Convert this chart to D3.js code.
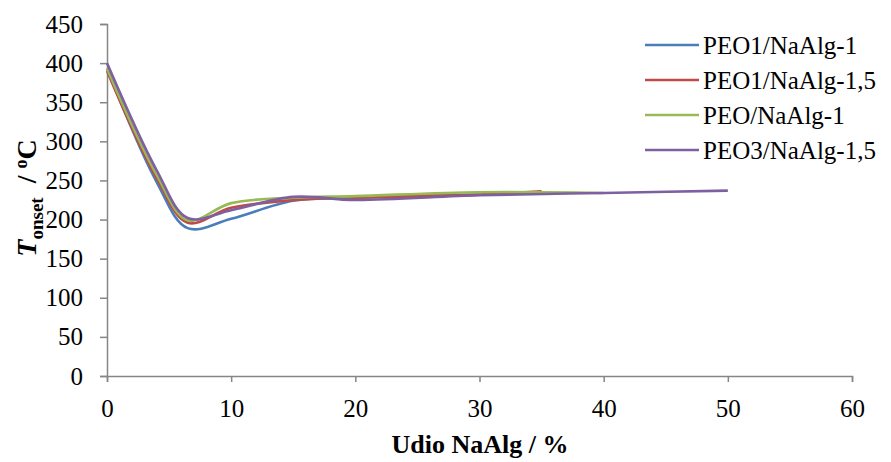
<!DOCTYPE html>
<html>
<head>
<meta charset="utf-8">
<script src="https://cdn.jsdelivr.net/npm/d3@7"></script>
<style>
  body { margin: 0; background: #fff; }
</style>
</head>
<body>
<div id="chart"></div>
<script>
// udio NaAlg (%) i T_onset (°C) za svaki uzorak
const seriesNames = ["PEO1/NaAlg-1", "PEO1/NaAlg-1,5", "PEO/NaAlg-1", "PEO3/NaAlg-1,5"];
const seriesColors = ["#4a7ebb", "#be4b48", "#98b954", "#7d60a0"];

const xPEO1_1 = [0, 4, 6.5, 10, 15, 20, 30];
const yPEO1_1 = [393, 248, 189, 201, 224, 228, 232];

const xPEO1_15 = [0, 4, 6.5, 10, 15, 20, 30, 35];
const yPEO1_15 = [390, 253, 196, 215, 225, 228, 232, 236];

const xPEO_1 = [0, 4, 6.5, 10, 15, 20, 30, 40];
const yPEO_1 = [393, 257, 199, 221, 228, 230, 235, 234];

const xPEO3_15 = [0, 4, 6.5, 10, 15, 20, 30, 40, 50];
const yPEO3_15 = [400, 263, 202, 212, 229, 225, 231, 234, 237];

const xTicks = [0, 10, 20, 30, 40, 50, 60];
const yTicks = [0, 50, 100, 150, 200, 250, 300, 350, 400, 450];

const FONT = "'Liberation Serif', 'Times New Roman', serif";

const series = [
    [xPEO1_1, yPEO1_1],
    [xPEO1_15, yPEO1_15],
    [xPEO_1, yPEO_1],
    [xPEO3_15, yPEO3_15]
].map(([xs, ys], i) => ({
    name: seriesNames[i],
    color: seriesColors[i],
    values: xs.map((x, j) => ({ x: x, y: ys[j] }))
}));

const W = 891, H = 462;
const margin = { top: 24, right: 39, bottom: 86, left: 107 },
    width = W - margin.left - margin.right,
    height = H - margin.top - margin.bottom;

const svg = d3.select("#chart")
    .append("svg")
    .attr("width", W)
    .attr("height", H)
    .style("font-family", FONT);

const g = svg.append("g")
    .attr("transform", `translate(${margin.left},${margin.top})`);

const x = d3.scaleLinear().domain([0, 60]).range([0, width]);
const y = d3.scaleLinear().domain([0, 450]).range([height, 0]);

// osi
const xAxis = g.append("g")
    .attr("transform", `translate(0,${height})`)
    .call(d3.axisBottom(x).tickValues(xTicks).tickSize(6).tickPadding(17));

const yAxis = g.append("g")
    .call(d3.axisLeft(y).tickValues(yTicks).tickSize(7).tickPadding(17));

[xAxis, yAxis].forEach(a => {
    a.attr("font-family", null).attr("font-size", null);
    a.selectAll("path, line").attr("stroke", "#868686").attr("stroke-width", 1.5);
    a.selectAll("text")
        .attr("fill", "#000")
        .style("font-family", FONT)
        .style("font-size", "25px");
});

// krivulje
const line = d3.line()
    .x(d => x(d.x))
    .y(d => y(d.y))
    .curve(d3.curveCatmullRom.alpha(0.5));

g.selectAll(".series")
    .data(series)
    .enter()
    .append("path")
    .attr("class", "series")
    .attr("fill", "none")
    .attr("stroke", d => d.color)
    .attr("stroke-width", 2.6)
    .attr("d", d => line(d.values));

// legenda
const legend = svg.append("g").attr("transform", "translate(645,45)");
const items = legend.selectAll("g")
    .data(series)
    .enter()
    .append("g")
    .attr("transform", (d, i) => `translate(0,${i * 35})`);

items.append("line")
    .attr("x1", 0).attr("x2", 54)
    .attr("stroke", d => d.color)
    .attr("stroke-width", 2.6);

items.append("text")
    .attr("x", 58)
    .attr("dy", "0.35em")
    .style("font-family", FONT)
    .style("font-size", "25px")
    .text(d => d.name);

// naslovi osi
svg.append("text")
    .attr("x", 480)
    .attr("y", 453)
    .attr("text-anchor", "middle")
    .style("font-family", FONT)
    .style("font-size", "26px")
    .style("font-weight", "bold")
    .text("Udio NaAlg / %");

const yl = svg.append("text")
    .attr("transform", `translate(36,198) rotate(-90)`)
    .attr("text-anchor", "middle")
    .style("font-family", FONT)
    .style("font-size", "28px")
    .style("font-weight", "bold");
yl.append("tspan").style("font-style", "italic").text("T");
yl.append("tspan").attr("dy", 7).style("font-size", "19px").text("onset");
yl.append("tspan").attr("dy", -7).text("\u00a0 /\u00a0");
yl.append("tspan").attr("dy", -9).style("font-size", "18px").text("o");
yl.append("tspan").attr("dy", 9).text("C");
</script>
</body>
</html>
